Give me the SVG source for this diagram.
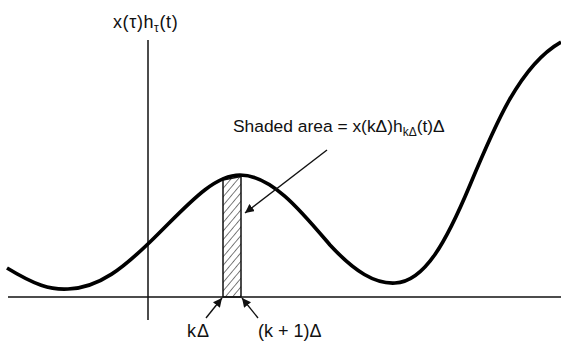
<svg xmlns="http://www.w3.org/2000/svg" width="561" height="343" viewBox="0 0 561 343">
<style>
.t{font-family:"Liberation Sans",Arial,sans-serif;font-size:18px;fill:#111}
.s{font-size:12px}
.ax{stroke:#111;stroke-width:1.5;fill:none}
.ar{stroke:#111;stroke-width:1.4;fill:none;marker-end:url(#ah)}
</style>
<defs>
<marker id="ah" viewBox="0 0 10 10" refX="10" refY="5" markerWidth="9" markerHeight="9" markerUnits="userSpaceOnUse" orient="auto">
<path d="M0,0 L10,5 L0,10 Z" fill="#111"/>
</marker>
<pattern id="hatch" width="5.5" height="5.5" patternUnits="userSpaceOnUse" patternTransform="rotate(40)">
<line x1="0" y1="0" x2="0" y2="5.5" stroke="#111" stroke-width="1.1"/>
</pattern>
</defs>
<g id="axes">
<line class="ax" x1="8" y1="297" x2="561" y2="297"/>
<line class="ax" x1="148" y1="40" x2="148" y2="320"/>
</g>
<g id="shaded">
<path d="M223,297 L223,180 L241,176.5 L241,297 Z" fill="url(#hatch)" stroke="#111" stroke-width="1.5"/>
</g>
<g id="curve">
<path d="M7,268 C35,285 50,290 68,289 C100,288 125,266 150,242 C185,208 212,175 240,175 C272,175 302,212 330,245 C355,272 375,284 395,283 C425,282 447,240 470,185 C495,125 520,65 561,42" fill="none" stroke="#000" stroke-width="3.7"/>
</g>
<g id="connectors">
<line class="ar" x1="327" y1="150" x2="245" y2="213"/>
<line class="ar" x1="206" y1="318" x2="222" y2="298"/>
<line class="ar" x1="258" y1="318" x2="242" y2="298"/>
</g>
<g id="labels">
<text class="t" x="113" y="28" style="letter-spacing:0.6px">x(τ)h<tspan class="s" dy="4">τ</tspan><tspan dy="-4">(t)</tspan></text>
<text class="t" x="233" y="132" style="font-size:17.4px">Shaded area = x(kΔ)h<tspan class="s" dy="4">kΔ</tspan><tspan dy="-4">(t)Δ</tspan></text>
<text class="t" x="187" y="337" style="letter-spacing:1px">kΔ</text>
<text class="t" x="258" y="337">(k + 1)Δ</text>
</g>
</svg>
